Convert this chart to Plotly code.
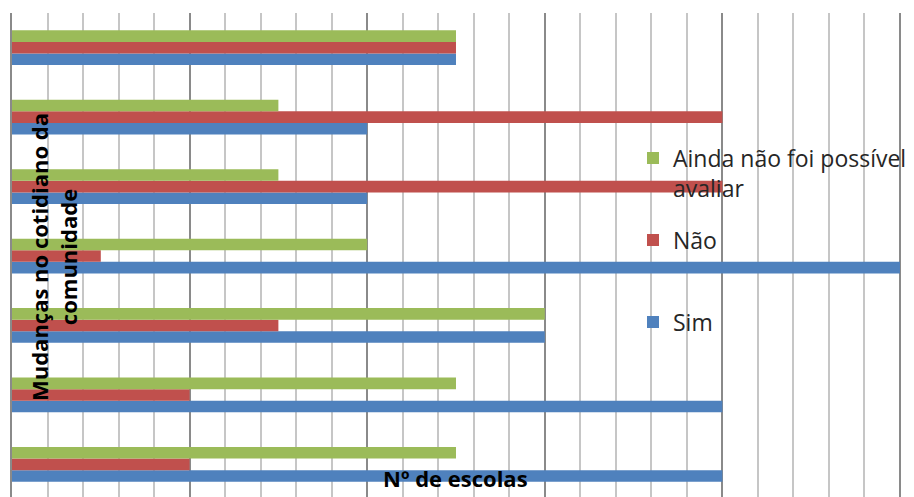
import plotly.graph_objects as go

# Data (bottom category first)
categories = ["Item 1", "Item 2", "Item 3", "Item 4", "Item 5", "Item 6", "Item 7"]
sim = [8, 8, 6, 10, 4, 4, 5]
nao = [2, 2, 3, 1, 8, 8, 5]
ainda = [5, 5, 6, 4, 3, 3, 5]

series_names = ["Sim", "Não", "Ainda não foi possível<br>avaliar"]
colors = ["#4F81BD", "#C0504D", "#9BBB59"]

W, H = 914, 497
ML, MR, MT, MB = 12, 0, 13, 0
PW, PH = W - ML - MR, H - MT - MB

def px_x(px):
    return (px - ML) / PW

def px_y(py):
    return (H - MB - py) / PH

fig = go.Figure()
legend_ids = ["legend3", "legend2", "legend"]
for vals, name, col, lg in zip([sim, nao, ainda], series_names, colors, legend_ids):
    fig.add_trace(go.Bar(
        y=categories, x=vals, name=name, orientation="h",
        marker=dict(color=col, line=dict(width=0)),
        legend=lg,
    ))

leg_font = dict(family="Open Sans", size=23, color="#262626")
def leg(py):
    return dict(x=px_x(633), y=px_y(py), xanchor="left", yanchor="middle",
                bgcolor="rgba(0,0,0,0)", font=leg_font, itemwidth=30,
                valign="top", borderwidth=0)

fig.update_layout(
    width=W, height=H,
    margin=dict(l=ML, r=MR, t=MT, b=MB, pad=0),
    paper_bgcolor="white", plot_bgcolor="white",
    barmode="group", bargap=0.5, bargroupgap=0,
    xaxis=dict(range=[0, 10.158], dtick=2, showgrid=True, gridcolor="#8a8a8a",
               gridwidth=1.5, zeroline=False, showticklabels=False, ticks="",
               minor=dict(dtick=0.4, showgrid=True, gridcolor="#c6c6c6", gridwidth=1.5)),
    yaxis=dict(range=[-0.47, 6.5], showticklabels=False, ticks="", showgrid=False,
               showline=True, linecolor="#8a8a8a", linewidth=2, zeroline=False),
    legend=leg(173),
    legend2=leg(240),
    legend3=leg(322),
    showlegend=True,
)

fig.add_annotation(
    text="Mudanças no cotidiano da<br>comunidade", xref="paper", yref="paper",
    x=px_x(53), y=px_y(257), xanchor="center", yanchor="middle", textangle=-90,
    showarrow=False, font=dict(family="Open Sans", size=22, color="black", weight="bold"),
)
fig.add_annotation(
    text="Nº de escolas", xref="paper", yref="paper",
    x=px_x(455), y=px_y(478), xanchor="center", yanchor="middle",
    showarrow=False, font=dict(family="Open Sans", size=22, color="black", weight="bold"),
)

fig.write_html("out.html")
